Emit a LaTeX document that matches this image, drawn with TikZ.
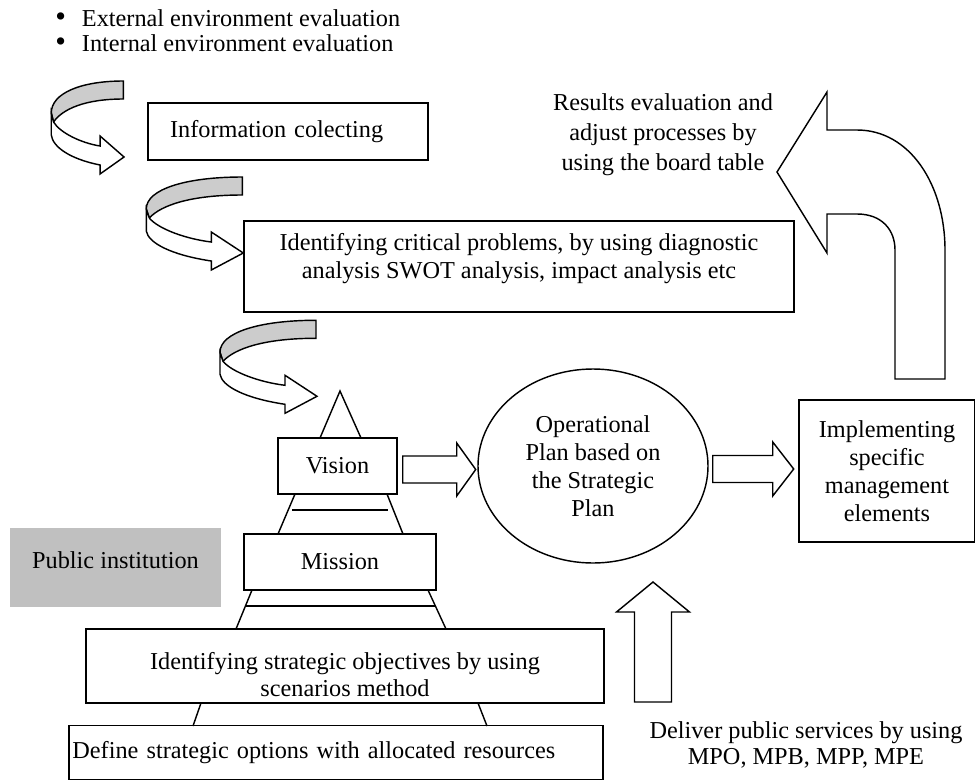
\documentclass[tikz,border=0pt]{standalone}
\usepackage{fontspec}
\setmainfont{Liberation Serif}
\usetikzlibrary{shapes.geometric}

\definecolor{ribbongray}{RGB}{204,204,204}
\definecolor{instgray}{RGB}{192,192,192}

% move the text inside a box up or down without changing the box
\newcommand{\lift}[2]{\raisebox{#1}[\height][\depth]{#2}}
\newcommand{\bul}{\raisebox{-0.4pt}{\scalebox{1.25}{\textbullet}}\hspace{11.2pt}}

\tikzstyle{txt} = [
    font=\fontsize{17}{19.5}\selectfont,
    align=center,
    inner sep=0pt
]
\tikzstyle{box} = [
    rectangle,
    draw=black,
    line width=1pt,
    txt
]
\tikzstyle{fat} = [draw=black, line width=1pt, fill=white]
\tikzstyle{edge} = [line width=1pt]

\tikzset{
  pics/curl/.style={code={
    \filldraw[fill=ribbongray, line width=1pt] (96,0) .. controls (40,0) and (0,12) .. (0,32)
      -- (3,41) .. controls (15,28) and (45,18) .. (96,18) -- cycle;
    \filldraw[fill=white, line width=1pt] (0,32) -- (0,54) .. controls (2,66) and (25,78) .. (65,84)
      -- (65,93) -- (97,76) -- (65,55) -- (65,65) .. controls (40,62) and (12,52) .. (3,41) -- cycle;
  }},
  pics/fatarrow/.style args={#1/#2/#3/#4}{code={
    \draw[fat] (0,-#1) -- (#3,-#1) -- (#3,-#2) -- (#4,0) -- (#3,#2) -- (#3,#1) -- (0,#1) -- cycle;
  }}
}

\begin{document}
\begin{tikzpicture}[x=0.7pt, y=-0.7pt]
\useasboundingbox (0,0) rectangle (975,780);

% Nodes
\node (evals) [txt, anchor=west, align=left, font=\fontsize{17}{17.5}\selectfont] at (55,30.5)
  {\bul External environment evaluation\\ \bul Internal environment evaluation};
\node (info) [box, minimum width=196pt, minimum height=39.9pt, text width=165pt, align=left] at (288,131.5) {Information colecting};
\node (crit) [box, minimum width=385pt, minimum height=63.7pt] at (519,266.5)
  {\lift{5.2pt}{\begin{tabular}{@{}c@{}}Identifying critical problems, by using diagnostic\\ analysis SWOT analysis, impact analysis etc\end{tabular}}};
\node (results) [txt, font=\fontsize{17}{21}\selectfont] at (663,135) {Results evaluation and\\ adjust processes by\\ using the board table};
\node (vision) [box, minimum width=83.3pt, minimum height=39.2pt] at (337.5,466) {Vision};
\node (mission) [box, minimum width=134.4pt, minimum height=39.2pt] at (340,562) {Mission};
\node (obj) [box, minimum width=362.6pt, minimum height=51.8pt] at (345,666)
  {\lift{-8pt}{\begin{tabular}{@{}c@{}}Identifying strategic objectives by using\\ scenarios method\end{tabular}}};
\node (opts) [box, minimum width=373.8pt, minimum height=37.8pt, text width=369pt, align=left] at (336,752.5) {Define strategic options with allocated resources};
\node (plan) [ellipse, draw=black, line width=1pt, txt, minimum width=161pt, minimum height=135.8pt] at (593,466) {Operational\\ Plan based on\\ the Strategic\\ Plan};
\node (impl) [box, minimum width=123.2pt, minimum height=99.4pt] at (887,471) {Implementing\\ specific\\ management\\ elements};
\node (inst) [txt, fill=instgray, minimum width=147.7pt, minimum height=55.3pt] at (115.5,567.5) {\lift{5.2pt}{Public institution}};
\node (deliver) [txt, font=\fontsize{17}{18.5}\selectfont] at (806,745) {Deliver public services by using\\ MPO, MPB, MPP, MPE};
\coordinate (svc) at (653,702);

% Pyramid
\draw [edge] (320,438) -- (340,391) -- (361,438);
\draw [edge] (295,494) -- (278,534);
\draw [edge] (387,494) -- (403,534);
\draw [edge] (292,510) -- (388,510);
\draw [edge] (252,590) -- (236,629);
\draw [edge] (428,590) -- (446,629);
\draw [edge] (246,606) -- (436,606);
\draw [edge] (201,703) -- (193,726);
\draw [edge] (478,703) -- (487,726);

% Arrows
\pic [xscale=0.75] at ([shift={(-96,-50.5)}]info.west) {curl};
\pic at ([shift={(-97,-89.5)}]crit.west) {curl};
\pic at ([shift={(-117.5,-117)}]vision.north) {curl};
\pic at ([shift={(5,3.5)}]vision.east) {fatarrow=13.5/26.5/54/73};
\pic at ([shift={(4,3)}]plan.east) {fatarrow=13.5/27/60/81};
\pic [rotate=90] at (svc) {fatarrow=18.5/36.5/90/120};
\draw [fat] (777,172) -- (827,92) -- (827,130) -- (857,130)
  .. controls (910,130) and (945,185) .. (945,250) -- (945,379) -- (895,379) -- (895,250)
  .. controls (895,230) and (882,214) .. (857,214) -- (827,214) -- (827,253) -- cycle;

\end{tikzpicture}
\end{document}
